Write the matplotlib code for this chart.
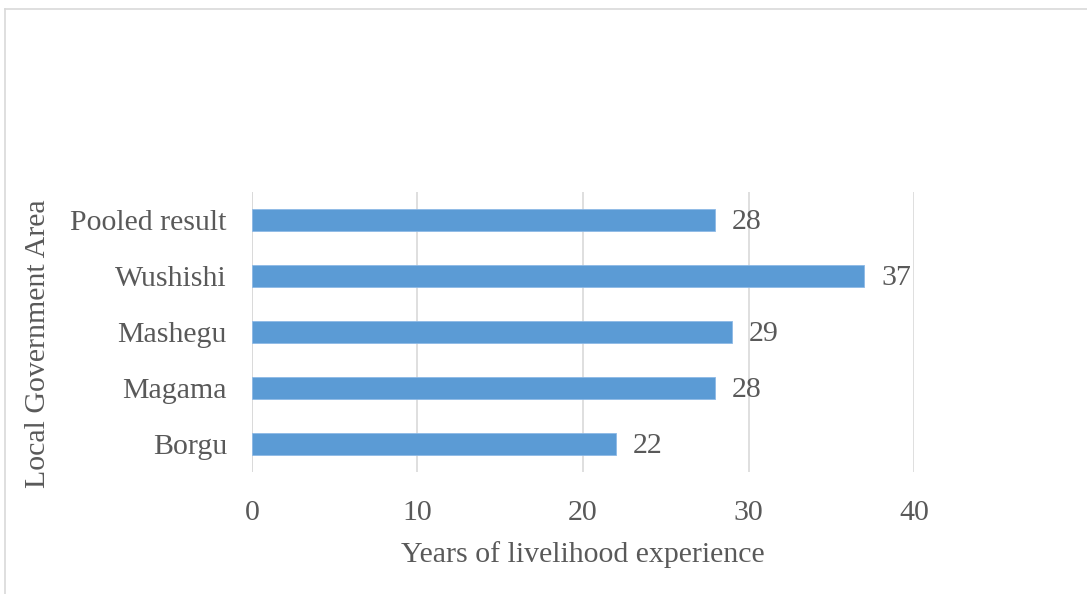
import matplotlib.pyplot as plt
from matplotlib.lines import Line2D

areas = ["Borgu", "Magama", "Mashegu", "Wushishi", "Pooled result"]
years = [22, 28, 29, 37, 28]
x_ticks = [0, 10, 20, 30, 40]

plt.rcParams['font.family'] = ['Liberation Serif', 'DejaVu Serif']
txt = '#595959'

fig = plt.figure(figsize=(10.87, 5.94), dpi=100)
ax = fig.add_axes([0.2318, 0.2054, 0.6091, 0.4714])

ax.barh(range(len(areas)), years, height=0.4, color='#5B9BD5',
        edgecolor='#8DB9E6', linewidth=0.6, zorder=3)
for i, v in enumerate(years):
    ax.text(v + 1.0, i - 0.03, str(v), va='center', ha='left', fontsize=21.5, color=txt)

ax.set_xlim(0, 40)
ax.set_ylim(-0.5, len(areas) - 0.5)
ax.set_xticks(x_ticks)
ax.set_yticks(range(len(areas)))
ax.set_yticklabels(areas)
ax.tick_params(axis='both', length=0, labelsize=21.5, labelcolor=txt)
ax.tick_params(axis='y', pad=18)
ax.tick_params(axis='x', pad=20)
ax.grid(axis='x', color='#D9D9D9', linewidth=1.2, zorder=0)
for s in ax.spines.values():
    s.set_visible(False)
ax.axvline(0, color='#D9D9D9', linewidth=1.2, zorder=1)

ax.set_xlabel("Years of livelihood experience", fontsize=21.5, color=txt, labelpad=11)
ax.set_ylabel("Local Government Area", fontsize=21.5, color=txt, va='center')
ax.yaxis.set_label_coords(-0.323, 0.459)

# chart-area border (left and top edges visible)
fig.add_artist(Line2D([5 / 1087, 5 / 1087], [0, 1 - 9 / 594], transform=fig.transFigure,
                      color='#D9D9D9', linewidth=1.2))
fig.add_artist(Line2D([5 / 1087, 1], [1 - 9 / 594, 1 - 9 / 594], transform=fig.transFigure,
                      color='#D9D9D9', linewidth=1.2))

fig.savefig("out.png", dpi=100)
